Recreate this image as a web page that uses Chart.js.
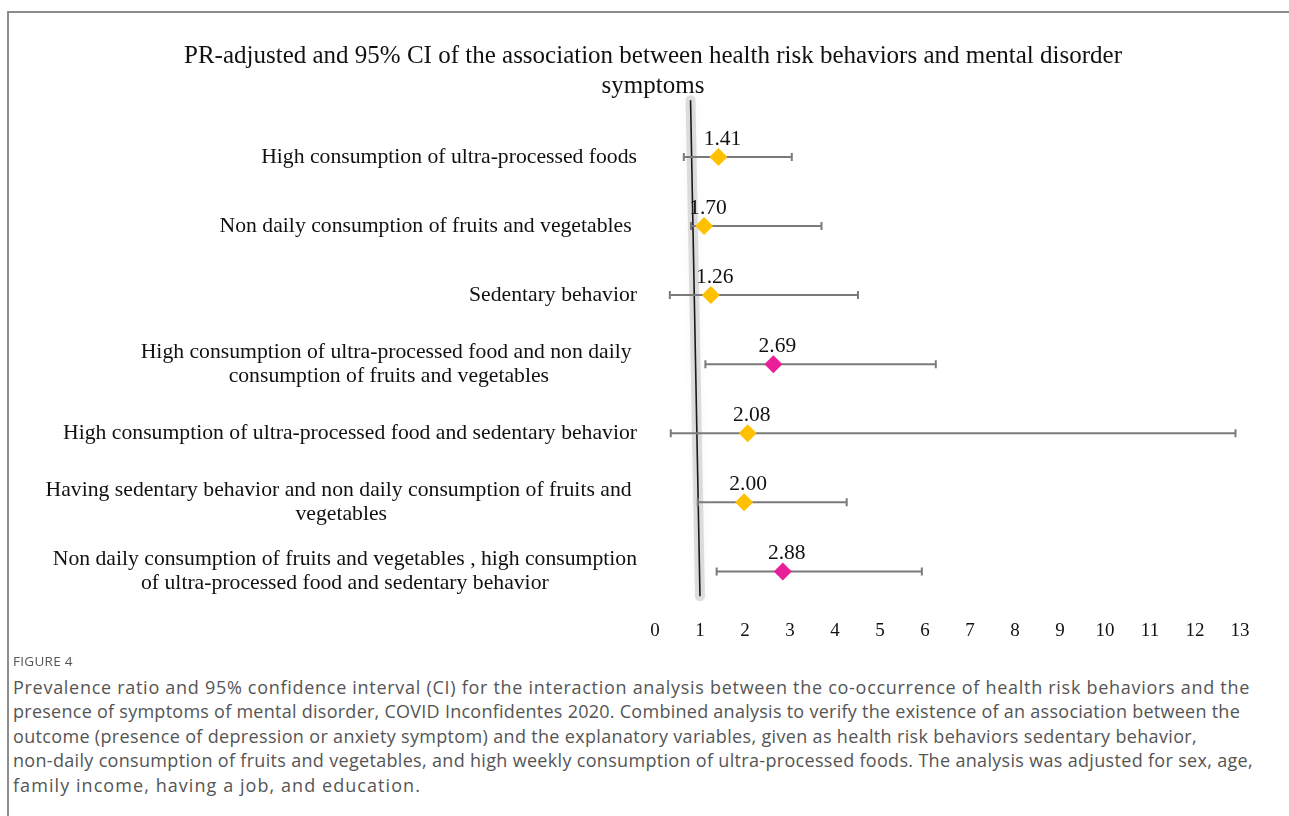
<!DOCTYPE html>
<html>
<head>
<meta charset="utf-8">
<script src="https://cdn.jsdelivr.net/npm/chart.js@4/dist/chart.umd.min.js"></script>
<style>
  html, body { margin: 0; padding: 0; background: #fff; }
  body { width: 1289px; height: 816px; position: relative; overflow: hidden; }
  .frame { position: absolute; left: 7px; top: 11px; width: 1400px; height: 900px;
           border-left: 2px solid #8c8c8c; border-top: 2px solid #8c8c8c; }
  #wrap { position: absolute; left: 0; top: 0; width: 1289px; height: 667px; }
  .fig-label { position: absolute; left: 13px; top: 652px; font: 13.5px "Open Sans", sans-serif;
               color: #555; letter-spacing: 0.3px; }
  .caption { position: absolute; left: 13px; top: 675px; font: 18px "Open Sans", sans-serif;
             color: #555; line-height: 24.4px; white-space: nowrap; }
  .caption span { display: block; }
</style>
</head>
<body>
<div class="frame"></div>
<div id="wrap"><canvas id="forest"></canvas></div>
<div class="fig-label">FIGURE 4</div>
<div class="caption">
<span data-w="1237">Prevalence ratio and 95% confidence interval (CI) for the interaction analysis between the co-occurrence of health risk behaviors and the</span>
<span data-w="1227">presence of symptoms of mental disorder, COVID Inconfidentes 2020. Combined analysis to verify the existence of an association between the</span>
<span data-w="1184">outcome (presence of depression or anxiety symptom) and the explanatory variables, given as health risk behaviors sedentary behavior,</span>
<span data-w="1240">non-daily consumption of fruits and vegetables, and high weekly consumption of ultra-processed foods. The analysis was adjusted for sex, age,</span>
<span data-w="408">family income, having a job, and education.</span>
</div>

<script>
// categories, top to bottom
const categories = [
    ['High consumption of ultra-processed foods'],
    ['Non daily consumption of fruits and vegetables '],
    ['Sedentary behavior'],
    ['High consumption of ultra-processed food and non daily ', 'consumption of fruits and vegetables'],
    ['High consumption of ultra-processed food and sedentary behavior'],
    ['Having sedentary behavior and non daily consumption of fruits and ', 'vegetables'],
    ['Non daily consumption of fruits and vegetables , high consumption', 'of ultra-processed food and sedentary behavior']
];
// printed PR values and where the markers sit in the figure
const prLabels = ['1.41', '1.70', '1.26', '2.69', '2.08', '2.00', '2.88'];
const prPlotted = [1.41, 1.09, 1.24, 2.63, 2.06, 1.98, 2.84];
const ciLower = [0.64, 0.80, 0.33, 1.12, 0.35, 0.95, 1.37];
const ciUpper = [3.04, 3.70, 4.51, 6.24, 12.90, 4.26, 5.93];
const interaction = [false, false, false, true, false, false, true];
const xTicks = [0, 1, 2, 3, 4, 5, 6, 7, 8, 9, 10, 11, 12, 13];
// reference line (slightly tilted in the original)
const refLine = [{ x: 0.79, y: -0.82 }, { x: 1.0, y: 6.36 }];

const SERIF = '"Liberation Serif", "Times New Roman", serif';
const GOLD = '#FFC000';
const PINK = '#E91E99';
const BAR = '#7a7a7a';

// stretch caption lines to the widths they have in the figure
document.querySelectorAll('.caption span').forEach(el => {
    el.style.display = 'inline-block';
    const natural = el.getBoundingClientRect().width;
    const n = el.textContent.length;
    el.style.letterSpacing = ((+el.dataset.w - natural) / n) + 'px';
    el.style.display = 'block';
});

const ciSets = categories.map((c, i) => ({
    label: 'ci' + i,
    data: [{ x: ciLower[i], y: i }, { x: ciUpper[i], y: i }],
    showLine: true,
    borderColor: BAR,
    borderWidth: 2,
    pointStyle: 'line',
    rotation: 90,
    pointRadius: 4,
    pointBorderColor: BAR,
    pointBorderWidth: 2,
    order: 2
}));

// draws the wrapped category labels (right aligned block, centred lines)
const rowLabels = {
    id: 'rowLabels',
    afterDraw(chart) {
        const ctx = chart.ctx;
        const y = chart.scales.y;
        const right = chart.chartArea.left - 18;
        const lh = 24;
        ctx.save();
        ctx.font = '21.7px ' + SERIF;
        ctx.fillStyle = '#111';
        ctx.textBaseline = 'middle';
        ctx.textAlign = 'center';
        categories.forEach((lines, i) => {
            const w = Math.max(...lines.map(l => ctx.measureText(l).width));
            const cx = right - w / 2;
            const y0 = y.getPixelForValue(i) - (lines.length - 1) * lh / 2;
            lines.forEach((l, k) => ctx.fillText(l, cx, y0 + k * lh));
        });
        ctx.restore();
    }
};

// PR values above the diamonds
const valueLabels = {
    id: 'valueLabels',
    afterDatasetsDraw(chart) {
        const idx = chart.data.datasets.findIndex(d => d.label === 'pr');
        const meta = chart.getDatasetMeta(idx);
        const ctx = chart.ctx;
        ctx.save();
        ctx.font = '21.5px ' + SERIF;
        ctx.fillStyle = '#111';
        ctx.textAlign = 'center';
        ctx.textBaseline = 'middle';
        meta.data.forEach((pt, i) => {
            ctx.fillText(prLabels[i], pt.x + 4, pt.y - 18);
        });
        ctx.restore();
    }
};

// soft grey glow behind the reference line
const lineShadow = {
    id: 'lineShadow',
    beforeDatasetDraw(chart, args) {
        if (args.meta.label === 'refShadow') {
            chart.ctx.save();
            chart.ctx.shadowColor = 'rgba(0,0,0,0.3)';
            chart.ctx.shadowBlur = 8;
        }
    },
    afterDatasetDraw(chart, args) {
        if (args.meta.label === 'refShadow') chart.ctx.restore();
    }
};

new Chart(document.getElementById('forest'), {
    type: 'scatter',
    data: {
        datasets: [
            {
                label: 'refShadow',
                data: refLine,
                showLine: true,
                borderColor: 'rgba(0,0,0,0.12)',
                borderWidth: 10,
                borderCapStyle: 'round',
                pointRadius: 0,
                clip: false,
                order: 4
            },
            {
                label: 'ref',
                data: refLine,
                showLine: true,
                borderColor: '#1a1a1a',
                borderWidth: 1.6,
                pointRadius: 0,
                clip: false,
                order: 3
            },
            ...ciSets,
            {
                label: 'pr',
                data: prPlotted.map((v, i) => ({ x: v, y: i })),
                pointStyle: 'rectRot',
                pointRadius: 9,
                pointBackgroundColor: interaction.map(f => f ? PINK : GOLD),
                pointBorderColor: interaction.map(f => f ? PINK : GOLD),
                pointBorderWidth: 0,
                order: 1
            }
        ]
    },
    options: {
        responsive: true,
        maintainAspectRatio: false,
        animation: false,
        events: [],
        layout: { padding: { left: 66, right: 49, top: 0, bottom: 9 } },
        plugins: {
            legend: { display: false },
            tooltip: { enabled: false },
            title: {
                display: true,
                text: ['PR-adjusted and 95% CI of the association between health risk behaviors and mental disorder', 'symptoms'],
                color: '#111',
                font: { family: SERIF, size: 25, weight: 'normal', lineHeight: 1.2 },
                padding: { top: 41, bottom: 0 }
            }
        },
        scales: {
            x: {
                type: 'linear',
                min: xTicks[0],
                max: xTicks[xTicks.length - 1],
                afterBuildTicks(scale) {
                    scale.ticks = xTicks.map(v => ({ value: v }));
                },
                grid: { display: false, drawTicks: false },
                border: { display: false },
                ticks: {
                    autoSkip: false,
                    maxRotation: 0,
                    padding: 16,
                    color: '#111',
                    font: { family: SERIF, size: 19 }
                }
            },
            y: {
                type: 'linear',
                reverse: true,
                min: -0.81,
                max: 6.46,
                grid: { display: false, drawTicks: false },
                border: { display: false },
                ticks: { display: false },
                afterFit(scale) {
                    scale.width = 589;
                }
            }
        }
    },
    plugins: [rowLabels, valueLabels, lineShadow]
});
</script>
</body>
</html>
